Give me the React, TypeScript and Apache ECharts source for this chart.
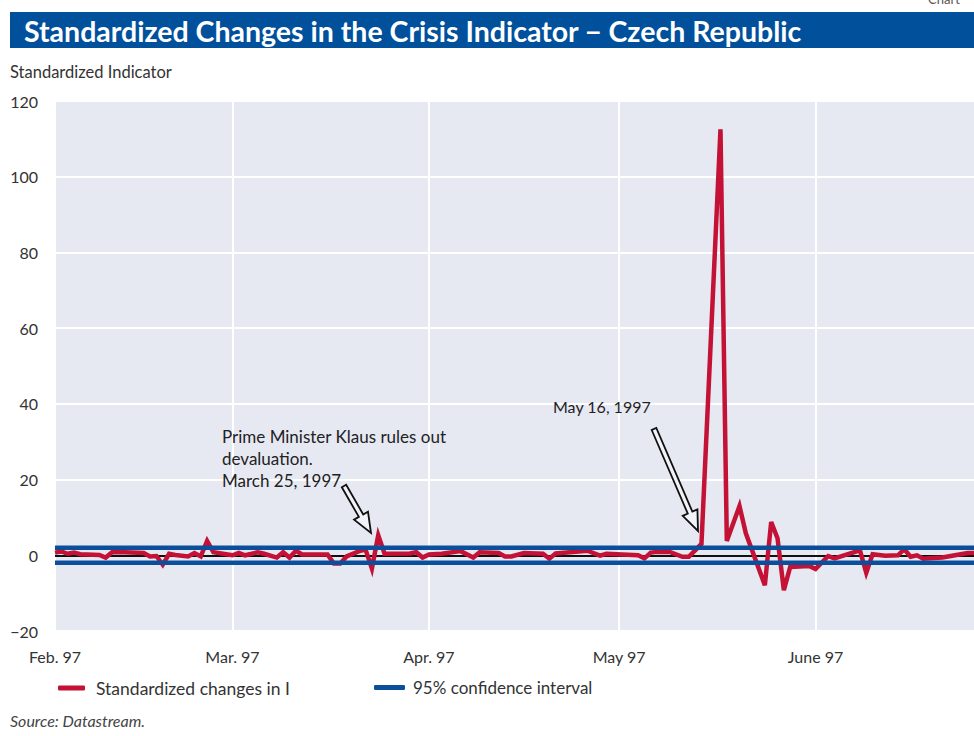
import React, { useEffect, useRef } from "react";
import * as echarts from "echarts";

// ---- data ----
const startDate = "1997-02-01";
const dayCount = 146; // Feb 1 .. June 26, 1997
const monthStarts = ["1997-02-01", "1997-03-01", "1997-04-01", "1997-05-01", "1997-06-01"];
const monthLabels = ["Feb. 97", "Mar. 97", "Apr. 97", "May 97", "June 97"];
const yTicks = [-20, 0, 20, 40, 60, 80, 100, 120];

const indicatorDates = [
  "02-01", "02-02", "02-03", "02-04", "02-05", "02-08", "02-09", "02-10", "02-12", "02-15",
  "02-16", "02-17", "02-18", "02-19", "02-20", "02-22", "02-23", "02-24", "02-25", "02-26",
  "03-01", "03-02", "03-03", "03-05", "03-06", "03-08", "03-09", "03-10", "03-11", "03-12",
  "03-13", "03-16", "03-17", "03-18", "03-19", "03-21", "03-22", "03-23", "03-24", "03-25",
  "03-29", "03-30", "03-31", "04-01", "04-03", "04-06", "04-08", "04-09", "04-12", "04-13",
  "04-14", "04-16", "04-19", "04-20", "04-21", "04-26", "04-28", "04-29", "05-04", "05-05",
  "05-06", "05-07", "05-09", "05-11", "05-12", "05-13", "05-14", "05-17", "05-18", "05-20",
  "05-21", "05-24", "05-25", "05-26", "05-27", "05-28", "05-31", "06-01", "06-03", "06-04",
  "06-08", "06-09", "06-10", "06-12", "06-14", "06-15", "06-16", "06-17", "06-18", "06-19",
  "06-21", "06-23", "06-25", "06-26",
];
const indicatorValues = [
  0.7, 1.0, 0.4, 0.7, 0.3, 0.1, -0.6, 0.8, 0.8, 0.6,
  -0.3, -0.2, -2.5, 0.4, 0.1, -0.3, 0.6, -0.3, 3.8, 0.8,
  0.0, 0.6, 0.0, 0.8, 0.4, -0.6, 0.8, -0.6, 1.2, 0.2,
  0.2, 0.2, -2.2, -2.2, -0.3, 1.1, 1.5, -3.5, 5.3, 0.4,
  0.5, 0.8, -0.6, 0.2, 0.4, 1.1, -0.6, 0.8, 0.6, -0.3,
  -0.3, 0.6, 0.4, -0.9, 0.5, 1.2, -0.1, 0.4, 0.0, -0.8,
  0.7, 0.9, 0.9, -0.4, -0.4, 1.3, 3.0, 112.5, 3.8, 13.0,
  5.8, -7.9, 8.8, 4.5, -9.2, -3.1, -2.8, -3.6, -0.2, -0.8,
  1.3, -4.6, 0.3, -0.1, 0.0, 1.6, -0.4, 0.0, -0.9, -0.8,
  -0.6, 0.0, 0.6, 0.6,
];
const confidenceBound = 1.96;

const seriesNames = ["Standardized changes in I", "95% confidence interval"];
const titleText = "Standardized Changes in the Crisis Indicator \u2212 Czech Republic";
const annotation1 = "Prime Minister Klaus rules out\ndevaluation.\nMarch 25, 1997";
const annotation2 = "May 16, 1997";

const FONT = "Lato, 'Open Sans', sans-serif";
const RED = "#c41236";
const BLUE = "#0b4f9c";
const BG = "#e6e8f2";

function buildDates(): string[] {
  const out: string[] = [];
  const d0 = new Date(startDate + "T00:00:00Z");
  for (let i = 0; i < dayCount; i++) {
    const d = new Date(d0.getTime() + i * 86400000);
    out.push(d.toISOString().slice(0, 10));
  }
  return out;
}

function arrow(sx: number, sy: number, tx: number, ty: number) {
  const shaftW = 5, headW = 16, headL = 20;
  const dx = tx - sx, dy = ty - sy;
  const len = Math.hypot(dx, dy);
  const ux = dx / len, uy = dy / len;
  const nx = -uy, ny = ux;
  const bx = tx - ux * headL, by = ty - uy * headL;
  const pts = [
    [sx + (nx * shaftW) / 2, sy + (ny * shaftW) / 2],
    [bx + (nx * shaftW) / 2, by + (ny * shaftW) / 2],
    [bx + (nx * headW) / 2, by + (ny * headW) / 2],
    [tx, ty],
    [bx - (nx * headW) / 2, by - (ny * headW) / 2],
    [bx - (nx * shaftW) / 2, by - (ny * shaftW) / 2],
    [sx - (nx * shaftW) / 2, sy - (ny * shaftW) / 2],
  ];
  return {
    type: "polygon",
    shape: { points: pts },
    style: { fill: "#f2f3f8", stroke: "#111", lineWidth: 1.8 },
    z: 20,
  };
}

export default function App() {
  const ref = useRef<HTMLDivElement>(null);
  useEffect(() => {
    if (!ref.current) return;
    const chart = echarts.init(ref.current, null, { renderer: "svg" });
    const dates = buildDates();
    const valueMap: Record<string, number> = {};
    indicatorDates.forEach((md, i) => {
      valueMap["1997-" + md] = indicatorValues[i];
    });
    const lineData = dates.map((d) => (d in valueMap ? valueMap[d] : null));
    const upper = dates.map(() => confidenceBound);
    const lower = dates.map(() => -confidenceBound);
    const isMonthStart = (_i: number, v: string) => monthStarts.includes(v);

    chart.setOption({
      animation: false,
      grid: {
        left: 55,
        right: 0,
        top: 101,
        bottom: 105,
        show: true,
        backgroundColor: BG,
        borderWidth: 0,
      },
      xAxis: {
        type: "category",
        data: dates,
        boundaryGap: false,
        axisLine: { show: false },
        axisTick: { show: false },
        axisLabel: {
          interval: isMonthStart,
          formatter: (v: string) => monthLabels[monthStarts.indexOf(v)] ?? "",
          color: "#333",
          fontFamily: FONT,
          fontSize: 16,
          margin: 17,
        },
        splitLine: {
          show: true,
          interval: isMonthStart,
          lineStyle: { color: "#ffffff", width: 2 },
        },
      },
      yAxis: {
        type: "value",
        min: yTicks[0],
        max: yTicks[yTicks.length - 1],
        interval: 20,
        axisLine: { show: false },
        axisTick: { show: false },
        axisLabel: {
          formatter: (v: number) => (v < 0 ? "\u2212" + Math.abs(v) : String(v)),
          color: "#333",
          fontFamily: FONT,
          fontSize: 16,
          margin: 17,
        },
        splitLine: { lineStyle: { color: "#ffffff", width: 2 } },
      },
      legend: [
        {
          left: 53,
          top: 674,
          data: [{ name: seriesNames[0], icon: "roundRect" }],
          itemWidth: 27,
          itemHeight: 5,
          textStyle: { fontSize: 17.5, color: "#333", fontFamily: FONT, padding: [0, 0, 0, 6] },
        },
        {
          left: 369,
          top: 674,
          data: [{ name: seriesNames[1], icon: "roundRect" }],
          itemWidth: 31,
          itemHeight: 5,
          textStyle: { fontSize: 17, color: "#333", fontFamily: FONT, padding: [0, 0, 0, 3] },
        },
      ],
      series: [
        {
          name: seriesNames[0],
          type: "line",
          data: lineData,
          connectNulls: true,
          showSymbol: false,
          symbol: "none",
          lineStyle: { color: RED, width: 4.5, join: "miter" },
          itemStyle: { color: RED },
          z: 3,
          markLine: {
            silent: true,
            symbol: "none",
            label: { show: false },
            lineStyle: { color: "#111", width: 2, type: "solid" },
            data: [{ yAxis: 0 }],
            z: 1,
          },
        },
        {
          name: seriesNames[1],
          type: "line",
          data: upper,
          showSymbol: false,
          symbol: "none",
          lineStyle: { color: BLUE, width: 4.5 },
          itemStyle: { color: BLUE },
          z: 4,
        },
        {
          name: seriesNames[1],
          type: "line",
          data: lower,
          showSymbol: false,
          symbol: "none",
          lineStyle: { color: BLUE, width: 4.5 },
          itemStyle: { color: BLUE },
          z: 4,
        },
      ],
      graphic: [
        {
          type: "rect",
          shape: { x: 10, y: 12, width: 964, height: 36 },
          style: { fill: "#00509c" },
        },
        {
          type: "text",
          x: 24,
          y: 31,
          style: {
            text: titleText,
            fill: "#ffffff",
            font: `bold 28.5px ${FONT}`,
            textVerticalAlign: "middle",
          },
        },
        {
          type: "text",
          x: 928,
          y: -8,
          style: { text: "Chart", fill: "#555", font: `13px ${FONT}` },
        },
        {
          type: "text",
          x: 10,
          y: 72,
          style: {
            text: "Standardized Indicator",
            fill: "#333",
            font: `16.5px ${FONT}`,
            textVerticalAlign: "middle",
          },
        },
        {
          type: "text",
          x: 222,
          y: 425,
          z: 20,
          style: {
            text: annotation1,
            fill: "#222",
            font: `17px ${FONT}`,
            lineHeight: 22,
          },
        },
        {
          type: "text",
          x: 553,
          y: 398,
          z: 20,
          style: { text: annotation2, fill: "#222", font: `16px ${FONT}` },
        },
        arrow(344, 486, 371, 533),
        arrow(654, 429, 698, 531),
        {
          type: "text",
          x: 10,
          y: 720,
          style: {
            text: "Source: Datastream.",
            fill: "#444",
            font: `italic 16px ${FONT}`,
            textVerticalAlign: "middle",
          },
        },
      ],
    });
    return () => chart.dispose();
  }, []);
  return (
    <div
      ref={ref}
      style={{ position: "fixed", left: 0, top: 0, width: 974, height: 736, background: "#fff" }}
    />
  );
}
